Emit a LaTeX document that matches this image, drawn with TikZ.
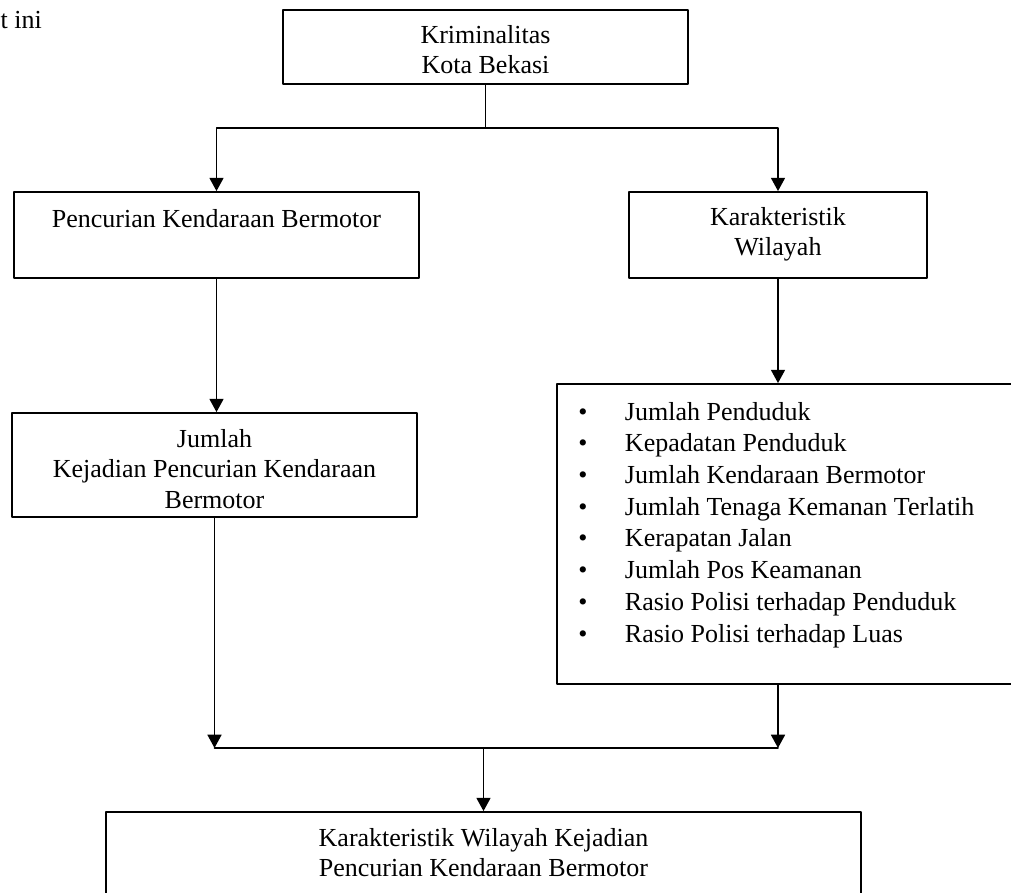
\documentclass[tikz,border=0pt]{standalone}
\usepackage{fontspec}
\setmainfont{Liberation Serif}
\usepackage{tikz}
\usetikzlibrary{arrows.meta}
\newcommand{\boxtext}[4]{\parbox[c][#2][t]{#1}{\centering\rule{0pt}{#3}#4}}
\newcommand{\itm}[1]{\hspace*{19.5pt}\makebox[0pt]{\textbullet}\hspace*{31.5pt}#1\\}

\begin{document}
\begin{tikzpicture}[line cap=round,line join=round,x=0.75pt,y=-0.75pt,
        every node/.style={font=\fontsize{19.5}{23}\selectfont},
        box/.style={draw,inner sep=0pt,line width=1.35pt},
        link/.style={line width=1.35pt,-{Triangle[width=10.5pt,length=10pt]}}]
        \useasboundingbox (0,0) rectangle (1011,893);
        \clip (0,0) rectangle (1011,893);
        \node[anchor=base west] (frag) at (-4,28) {t ini};
        \node[box] (krim) at (485.5,47) {\boxtext{303.75pt}{55.5pt}{24.75pt}{Kriminalitas\\Kota Bekasi}};
        \node[box] (penc) at (216.5,235) {\boxtext{303.75pt}{64.5pt}{26.25pt}{Pencurian Kendaraan Bermotor}};
        \node[box] (karak) at (778,235) {\boxtext{223.5pt}{64.5pt}{24.75pt}{Karakteristik\\Wilayah}};
        \node[box] (jumlah) at (214.5,465) {\boxtext{303.75pt}{78pt}{25.5pt}{Jumlah\\Kejadian Pencurian Kendaraan\\Bermotor}};
        \node[box,font=\fontsize{19.5}{23.8}\selectfont] (list) at (793.5,534) {\parbox[c][225pt][t]{354.75pt}{\raggedright\rule{0pt}{27pt}%
                \itm{Jumlah Penduduk}
                \itm{Kepadatan Penduduk}
                \itm{Jumlah Kendaraan Bermotor}
                \itm{Jumlah Tenaga Kemanan Terlatih}
                \itm{Kerapatan Jalan}
                \itm{Jumlah Pos Keamanan}
                \itm{Rasio Polisi terhadap Penduduk}
                \itm{Rasio Polisi terhadap Luas}}};
        \node[box] (hasil) at (483.5,866) {\boxtext{566.25pt}{81pt}{25.5pt}{Karakteristik Wilayah Kejadian\\Pencurian Kendaraan Bermotor}};
        \coordinate (split) at (485.5,128);
        \coordinate (merge) at (483.5,748);
        \draw[line width=1.35pt] (krim.south) -- (split);
        \draw[link] (split) -| (penc.north);
        \draw[link] (split) -| (karak.north);
        \draw[link] (penc.south) -- (penc.south |- jumlah.north);
        \draw[link] (karak.south) -- (karak.south |- list.north);
        \draw[link] (jumlah.south) -- (jumlah.south |- merge);
        \draw[link] (karak.south |- list.south) -- (karak.south |- merge);
        \draw[line width=1.35pt] (jumlah.south |- merge) -- (karak.south |- merge);
        \draw[link] (merge) -- (hasil.north);
      \end{tikzpicture}
\end{document}
